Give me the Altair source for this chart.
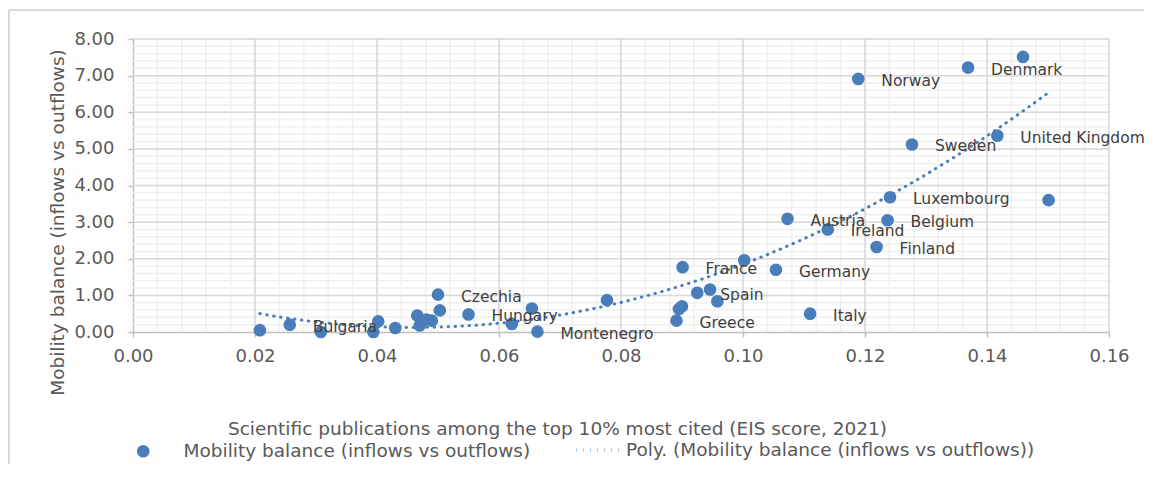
import altair as alt
import pandas as pd

# ---- data ----
eis_score = [0.0208, 0.0257, 0.0308, 0.0402, 0.0394, 0.0430, 0.0466, 0.0470, 0.0481, 0.0490,
             0.0500, 0.0503, 0.0550, 0.0621, 0.0654, 0.0663, 0.0777, 0.0891, 0.0895, 0.0900,
             0.0901, 0.0925, 0.0946, 0.0958, 0.1002, 0.1054, 0.1073, 0.1110, 0.1139, 0.1189,
             0.1219, 0.1237, 0.1241, 0.1277, 0.1369, 0.1417, 0.1459, 0.1501]
mobility = [0.05, 0.20, 0.00, 0.29, 0.00, 0.11, 0.45, 0.18, 0.34, 0.31,
            1.02, 0.59, 0.48, 0.22, 0.64, 0.01, 0.87, 0.31, 0.63, 0.70,
            1.77, 1.07, 1.16, 0.84, 1.96, 1.70, 3.09, 0.50, 2.80, 6.91,
            2.32, 3.05, 3.68, 5.12, 7.22, 5.36, 7.51, 3.60]
country = ["", "Bulgaria", "", "", "", "", "", "", "", "",
           "Czechia", "", "Hungary", "", "", "Montenegro", "", "Greece", "", "",
           "France", "Spain", "", "", "", "Germany", "Austria", "Italy", "Ireland", "Norway",
           "Finland", "Belgium", "Luxembourg", "Sweden", "Denmark", "United Kingdom", "", ""]

x_ticks = [0.0, 0.02, 0.04, 0.06, 0.08, 0.10, 0.12, 0.14, 0.16]
y_ticks = [0, 1, 2, 3, 4, 5, 6, 7, 8]
x_minor = [round(i * 0.004, 4) for i in range(1, 41)]
y_minor = [round(i * 0.2, 2) for i in range(1, 41)]

series_pts = "Mobility balance (inflows vs outflows)"
series_trend = "Poly. (Mobility balance (inflows vs outflows))"
x_title = "Scientific publications among the top 10% most cited (EIS score, 2021)"
y_title = "Mobility balance (inflows vs outflows)"

BLUE = "#4A7EBB"
FONT = "DejaVu Sans"

df = pd.DataFrame({"x": eis_score, "y": mobility, "label": country, "s": series_pts})
xminor_df = pd.DataFrame({"v": x_minor})
yminor_df = pd.DataFrame({"v": y_minor})
xmajor_df = pd.DataFrame({"v": x_ticks[1:]})
ymajor_df = pd.DataFrame({"v": y_ticks[1:]})

xs = alt.Scale(domain=[0, 0.16], nice=False, zero=False)
ys = alt.Scale(domain=[0, 8], nice=False)

x_axis = alt.Axis(values=x_ticks, format=".2f", title=x_title, grid=False,
                  titleX=424, titleY=96, titleBaseline="middle", titleAlign="center",
                  labelPadding=10, labelFlush=False, labelOverlap=False)
y_axis = alt.Axis(values=y_ticks, format=".2f", title=y_title, grid=False,
                  titleX=-76, titleY=183, titleBaseline="middle", titleAlign="center",
                  titleAngle=270, labelPadding=14, labelFlush=False, labelOverlap=False)

minor_v = alt.Chart(xminor_df).mark_rule(color="#f0f0f0", strokeWidth=1.5).encode(
    x=alt.X("v:Q", scale=xs, axis=x_axis, title=x_title))
minor_h = alt.Chart(yminor_df).mark_rule(color="#f0f0f0", strokeWidth=1.5).encode(
    y=alt.Y("v:Q", scale=ys, axis=y_axis, title=y_title))
major_v = alt.Chart(xmajor_df).mark_rule(color="#d9d9d9", strokeWidth=1.5).encode(
    x=alt.X("v:Q", scale=xs, axis=x_axis, title=x_title))
major_h = alt.Chart(ymajor_df).mark_rule(color="#d9d9d9", strokeWidth=1.5).encode(
    y=alt.Y("v:Q", scale=ys, axis=y_axis, title=y_title))

trend = alt.Chart(df).transform_regression(
    "x", "y", method="poly", order=2
).transform_calculate(t=f"'{series_trend}'").mark_line(
    color=BLUE, strokeWidth=3, strokeCap="round"
).encode(
    x=alt.X("x:Q", scale=xs, axis=x_axis, title=x_title),
    y=alt.Y("y:Q", scale=ys, axis=y_axis, title=y_title),
    strokeDash=alt.StrokeDash("t:N", scale=alt.Scale(domain=[series_trend], range=[[0.5, 6.5]]),
                              legend=alt.Legend(title=None, orient="none", legendX=442, legendY=387,
                                                symbolType="stroke", symbolSize=2025,
                                                symbolStrokeColor=BLUE, symbolStrokeWidth=3,
                                                labelOffset=3, labelLimit=800, padding=0)),
)

points = alt.Chart(df).mark_circle(size=160, opacity=1).encode(
    x=alt.X("x:Q", scale=xs, axis=x_axis, title=x_title),
    y=alt.Y("y:Q", scale=ys, axis=y_axis, title=y_title),
    color=alt.Color("s:N", scale=alt.Scale(domain=[series_pts], range=[BLUE]),
                    legend=alt.Legend(title=None, orient="none", legendX=1, legendY=403,
                                      symbolType="circle", symbolSize=160, symbolOpacity=1,
                                      labelOffset=31, labelLimit=800, padding=0)),
)

labels = alt.Chart(df).transform_filter("datum.label != ''").mark_text(
    align="left", baseline="middle", dx=23, dy=2, fontSize=15.5, font=FONT, color="#404040"
).encode(
    x=alt.X("x:Q", scale=xs, axis=x_axis, title=x_title),
    y=alt.Y("y:Q", scale=ys, axis=y_axis, title=y_title),
    text="label:N",
)

border_left = alt.Chart(df).mark_rule(color="#d9d9d9", strokeWidth=1.5).encode(
    x=alt.value(-124), y=alt.value(-29), y2=alt.value(475))
border_top = alt.Chart(df).mark_rule(color="#d9d9d9", strokeWidth=1.5).encode(
    x=alt.value(-124), x2=alt.value(1040), y=alt.value(-29))

chart = alt.layer(
    minor_v, minor_h, major_v, major_h, trend, points, labels, border_left, border_top
).properties(
    width=976, height=293,
    autosize=alt.AutoSizeParams(type="none"),
    padding={"left": 125, "top": 31, "right": 35, "bottom": 132},
).configure_view(
    stroke=None
).configure_axis(
    labelFont=FONT, titleFont=FONT, labelFontSize=18, titleFontSize=18.5,
    labelColor="#595959", titleColor="#595959", titleFontWeight="normal",
    domainColor="#bfbfbf", domainWidth=1.5, tickColor="#bfbfbf", tickSize=5, tickWidth=1.5,
).configure_legend(
    labelFont=FONT, labelFontSize=18.5, labelColor="#595959", direction="horizontal"
)

chart.save("out.html", embed_options={"renderer": "svg", "actions": False})
